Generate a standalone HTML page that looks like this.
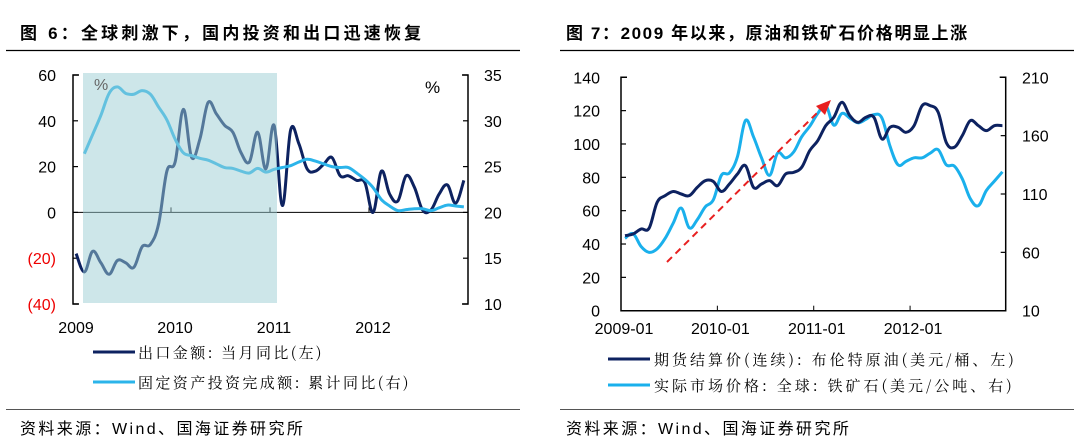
<!DOCTYPE html>
<html><head><meta charset="utf-8">
<style>
body{margin:0;background:#fff;width:1080px;height:447px;overflow:hidden}
svg{display:block}
text{font-family:"Liberation Sans","Noto Sans CJK SC",sans-serif}
.cn{font-family:"Noto Serif CJK SC","Liberation Serif",serif}
</style></head><body>
<svg id="chart" width="1080" height="447" viewBox="0 0 1080 447">
<text x="20" y="39" font-size="17" font-weight="bold" letter-spacing="3.2">图 6：全球刺激下，国内投资和出口迅速恢复</text>
<text x="566" y="39" font-size="17" font-weight="bold" letter-spacing="1.6">图 7：2009 年以来，原油和铁矿石价格明显上涨</text>
<line x1="6" y1="50.5" x2="520" y2="50.5" stroke="#000" stroke-width="1.2"/>
<line x1="560" y1="50.5" x2="1074" y2="50.5" stroke="#000" stroke-width="1.2"/>
<line x1="6" y1="409.5" x2="520" y2="409.5" stroke="#555" stroke-width="1"/>
<line x1="560" y1="409.5" x2="1074" y2="409.5" stroke="#555" stroke-width="1"/>
<text x="20" y="434" font-size="16" letter-spacing="2.4">资料来源：Wind、国海证券研究所</text>
<text x="566" y="434" font-size="16" letter-spacing="2.4">资料来源：Wind、国海证券研究所</text>
<g id="left"></g><g id="right"></g>
</svg>
<script>
// ---- Left chart data ----
const exportYoY=[-18,-26,-17,-22,-27,-21,-22,-24,-15,-14,-5,18,22,45,24,32,48,43,38,35,26,22,35,19,38,3,36,30,19,18,21,24,16,16,14,13,0,18,8,5,16,11,1,1,8,12,4,14];
const faiYoY=[null,26.4,28.5,30.6,33.0,33.7,33.0,32.9,33.3,32.9,31.5,30.1,28.0,26.5,26.2,25.9,25.7,25.3,24.9,24.8,24.5,24.3,24.8,24.4,24.7,24.9,25.1,25.5,25.8,25.6,25.3,25.0,24.9,24.9,24.3,23.6,22.7,21.4,20.7,20.2,20.3,20.4,20.4,20.2,20.5,20.8,20.7,20.6];
const leftTicksL=[60,40,20,0,-20,-40];
const leftTicksR=[35,30,25,20,15,10];
const leftYears=["2009","2010","2011","2012"];
// ---- Right chart data ----
const brentOil=[45,46,49,49.5,65,69,71.5,70,69,74,78,77.5,71.5,76,82,87,74,76,78,75,82,83,86,96,102,111,116,125,117,113,116,116,103,110,110,107,111,123,123,119,101,98,105,114,111,108,111,111];
const ironOre=[72,76,65,60,63,72,85,98,81,88,99,105,126,128,142,173,159,141,126,145,141,146,159,168,179,186,169,179,175,171,174,178,175,151,135,138,141,141,145,148,135,134,123,106,100,113,121,129];
const rightTicksL=[140,120,100,80,60,40,20,0];
const rightTicksR=[210,160,110,60,10];
const rightDates=["2009-01","2010-01","2011-01","2012-01"];

const NS="http://www.w3.org/2000/svg";
function mk(parent,tag,attrs){const e=document.createElementNS(NS,tag);for(const k in attrs)e.setAttribute(k,attrs[k]);parent.appendChild(e);return e;}
function smooth(pts){let d="M"+pts[0][0]+","+pts[0][1];for(let i=0;i<pts.length-1;i++){const p0=pts[i-1]||pts[i],p1=pts[i],p2=pts[i+1],p3=pts[i+2]||p2;const t=0.18;d+=" C"+(p1[0]+(p2[0]-p0[0])*t)+","+(p1[1]+(p2[1]-p0[1])*t)+" "+(p2[0]-(p3[0]-p1[0])*t)+","+(p2[1]-(p3[1]-p1[1])*t)+" "+p2[0]+","+p2[1];}return d;}

// Left chart
(function(){
const g=document.getElementById('left');
const X0=73,X1=468,YT=75,YB=304;
const xM=i=>72+(i+0.5)*8.25;
const yL=v=>YT+(60-v)/100*(YB-YT);
const yR=v=>YT+(35-v)/25*(YB-YT);
let ax=mk(g,'path',{d:`M${X0+6},${YT} H${X0} V${YB} H${X0+6}`,fill:'none',stroke:'#000','stroke-width':1.5});

leftTicksL.forEach(v=>{const y=yL(v);
 const tk=mk(g,'line',{x1:X0,x2:X0+5,y1:y,y2:y,stroke:'#000','stroke-width':1.2});
 
 const t=mk(g,'text',{x:56,y:y+6,'font-size':16,'text-anchor':'end',fill:v<0?'#e00':'#000'});
 t.textContent=v<0?'('+(-v)+')':String(v);
 });
let ax2=mk(g,'path',{d:`M${X1-6},${YT} H${X1} V${YB} H${X1-6}`,fill:'none',stroke:'#000','stroke-width':1.5});

leftTicksR.forEach(v=>{const y=yR(v);
 const tk=mk(g,'line',{x1:X1-5,x2:X1,y1:y,y2:y,stroke:'#000','stroke-width':1.2});
 
 const t=mk(g,'text',{x:484,y:y+6,'font-size':16});t.textContent=String(v);
 });
const zl=mk(g,'line',{x1:X0,x2:X1,y1:yL(0),y2:yL(0),stroke:'#000','stroke-width':1});

leftYears.forEach((s,k)=>{const x=72+k*12*8.25;
 if(k>0){const tk=mk(g,'line',{x1:x,x2:x,y1:yL(0),y2:yL(0)-5,stroke:'#000'});}
 const t=mk(g,'text',{x:x+4,y:333,'font-size':16,'text-anchor':'middle'});t.textContent=s;
 });
const p1=mk(g,'path',{d:smooth(exportYoY.map((v,i)=>[xM(i),yL(v)])),fill:'none',stroke:'#0d2260','stroke-width':3});

const fp=[];faiYoY.forEach((v,i)=>{if(v!==null)fp.push([xM(i),yR(v)]);});
const p2=mk(g,'path',{d:smooth(fp),fill:'none',stroke:'#2bb4ea','stroke-width':3});

const sh=mk(g,'rect',{x:83,y:73,width:194,height:230,fill:'#9ccdd3','fill-opacity':0.5});

let t=mk(g,'text',{x:94,y:90,'font-size':16,fill:'#666'});t.textContent='%';
t=mk(g,'text',{x:425,y:93,'font-size':17});t.textContent='%';
let l=mk(g,'line',{x1:93,x2:135,y1:352,y2:352,stroke:'#0d2260','stroke-width':3});
t=mk(g,'text',{x:138,y:358,'font-size':15,'letter-spacing':2.4,class:'cn'});t.textContent='出口金额: 当月同比(左)';
l=mk(g,'line',{x1:93,x2:135,y1:382,y2:382,stroke:'#2bb4ea','stroke-width':3});
t=mk(g,'text',{x:138,y:388,'font-size':15,'letter-spacing':2.4,class:'cn'});t.textContent='固定资产投资完成额: 累计同比(右)';
})();

// Right chart
(function(){
const g=document.getElementById('right');
const X0=621,X1=1005.7,YT=77.3,YB=310.7;
const xM=i=>621+(i+0.5)*8.03;
const yL=v=>YB-v/140*(YB-YT);
const yR=v=>YB-(v-10)/200*(YB-YT);
let ax=mk(g,'path',{d:`M${X0+6},${YT} H${X0} V${YB} H${X1} V${YT} H${X1-6}`,fill:'none',stroke:'#000','stroke-width':1.5});

rightTicksL.forEach(v=>{const y=yL(v);
 const tk=mk(g,'line',{x1:X0,x2:X0+5,y1:y,y2:y,stroke:'#000','stroke-width':1.2});
 
 const t=mk(g,'text',{x:600,y:y+6,'font-size':16,'text-anchor':'end'});t.textContent=String(v);
 });
rightTicksR.forEach(v=>{const y=yR(v);
 const tk=mk(g,'line',{x1:X1-5,x2:X1,y1:y,y2:y,stroke:'#000','stroke-width':1.2});
 
 const t=mk(g,'text',{x:1022,y:y+6,'font-size':16});t.textContent=String(v);
 });
rightDates.forEach((s,k)=>{const x=621+k*12*8.03;
 if(k>0){const tk=mk(g,'line',{x1:x,x2:x,y1:YB,y2:YB-5,stroke:'#000'});}
 const t=mk(g,'text',{x:x+3,y:334,'font-size':16,'text-anchor':'middle'});t.textContent=s;
 });
const p2=mk(g,'path',{d:smooth(ironOre.map((v,i)=>[xM(i),yR(v)])),fill:'none',stroke:'#1ab0ec','stroke-width':3});

const p1=mk(g,'path',{d:smooth(brentOil.map((v,i)=>[xM(i),yL(v)])),fill:'none',stroke:'#0d2260','stroke-width':3});

const ar=mk(g,'line',{x1:667,y1:262,x2:822,y2:108,stroke:'#e82020','stroke-width':2,'stroke-dasharray':'7,5'});

const ah=mk(g,'polygon',{points:'831,100 816,106 825,115',fill:'#e82020'});

let l=mk(g,'line',{x1:608,x2:650,y1:359,y2:359,stroke:'#0d2260','stroke-width':3});
let t=mk(g,'text',{x:654,y:365,'font-size':15,'letter-spacing':3,class:'cn'});t.textContent='期货结算价(连续): 布伦特原油(美元/桶、左)';
l=mk(g,'line',{x1:608,x2:650,y1:385,y2:385,stroke:'#1ab0ec','stroke-width':3});
t=mk(g,'text',{x:654,y:391,'font-size':15,'letter-spacing':3,class:'cn'});t.textContent='实际市场价格: 全球: 铁矿石(美元/公吨、右)';
})();
</script>
</body></html>
